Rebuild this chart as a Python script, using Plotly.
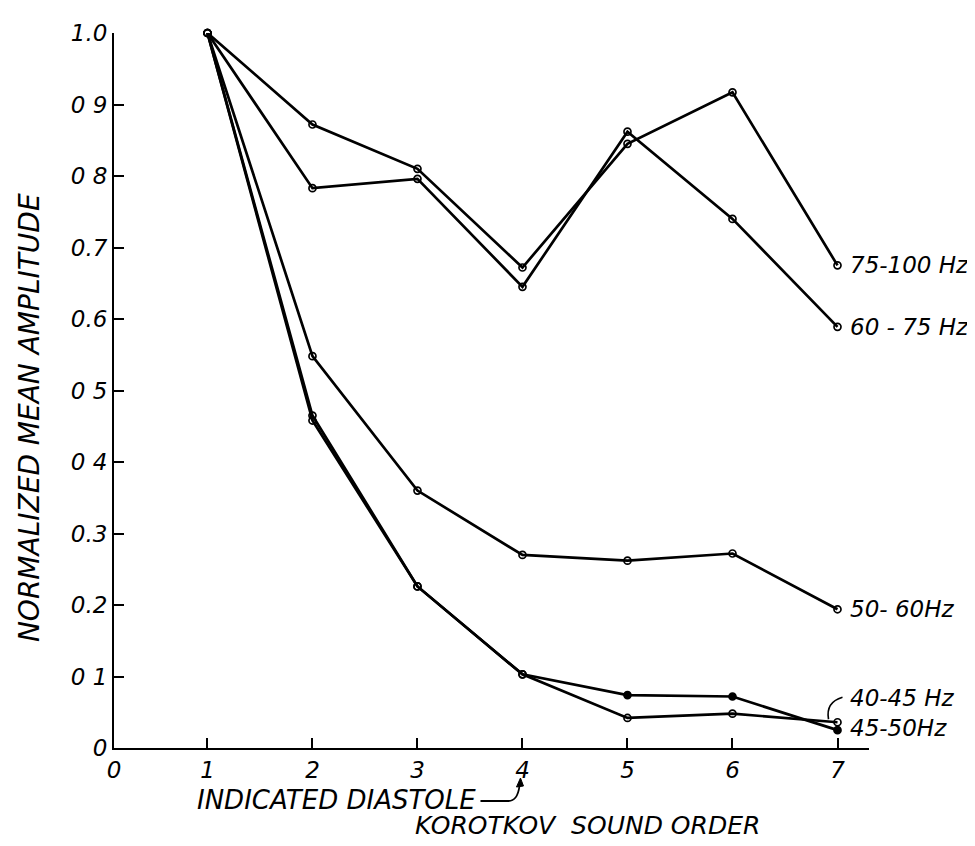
import plotly.graph_objects as go

# ---- data ----
sound_order = [1, 2, 3, 4, 5, 6, 7]
hz_75_100 = [1.0, 0.872, 0.81, 0.672, 0.845, 0.917, 0.675]
hz_60_75 = [1.0, 0.783, 0.796, 0.645, 0.862, 0.74, 0.589]
hz_50_60 = [1.0, 0.548, 0.36, 0.27, 0.262, 0.272, 0.194]
hz_45_50 = [1.0, 0.465, 0.226, 0.103, 0.074, 0.072, 0.025]
hz_40_45 = [1.0, 0.458, 0.226, 0.103, 0.042, 0.048, 0.036]

series_names = ["75-100 Hz", "60 - 75 Hz", "50- 60Hz", "45-50Hz", "40-45 Hz"]
series_values = [hz_75_100, hz_60_75, hz_50_60, hz_45_50, hz_40_45]
# first sound order drawn with filled dots (None = all open)
filled_from = [None, None, None, 5, None]

y_ticks = [0, 0.1, 0.2, 0.3, 0.4, 0.5, 0.6, 0.7, 0.8, 0.9, 1.0]
y_ticktext = ["0", "0 1", "0.2", "0.3", "0 4", "0 5", "0.6", "0.7", "0 8", "0 9", "1.0"]
x_ticktext = ["0", "1", "2", "3", "4", "5", "6", "7"]

X_RANGE = [0.11, 7.3]
FONT = "DejaVu Sans"

fig = go.Figure()
for name, vals, ff in zip(series_names, series_values, filled_from):
    symbols = ["circle" if (ff is not None and xv >= ff) else "circle-open" for xv in sound_order]
    fig.add_trace(go.Scatter(
        x=sound_order, y=vals, mode="lines+markers", name=name,
        line=dict(color="black", width=2.7),
        marker=dict(symbol=symbols, size=7, color="black", line=dict(color="black", width=1.7)),
        cliponaxis=False, showlegend=False,
    ))

# right-hand labels anchored at the last point of each series
label_shift = {"75-100 Hz": 0, "60 - 75 Hz": 0, "50- 60Hz": 0, "45-50Hz": 2, "40-45 Hz": 24}
for name, vals in zip(series_names, series_values):
    fig.add_annotation(x=sound_order[-1], y=vals[-1], xref="x", yref="y",
                       text=name, showarrow=False, xanchor="left", yanchor="middle",
                       xshift=10, yshift=label_shift[name],
                       font=dict(family=FONT, size=23, color="black", style="italic"))

# curved leader for 40-45 Hz label
fig.add_shape(type="path", xref="x", yref="y", xsizemode="pixel", ysizemode="pixel",
              xanchor=sound_order[-1], yanchor=hz_40_45[-1],
              path="M -9,3 Q -12,20 5,25", line=dict(color="black", width=1.6))

# INDICATED DIASTOLE arrow towards tick 4 (paper-referenced so it is not clipped)
tick4_paper = (4 - X_RANGE[0]) / (X_RANGE[1] - X_RANGE[0])
fig.add_shape(type="path", xref="paper", yref="paper", xsizemode="pixel", ysizemode="pixel",
              xanchor=tick4_paper, yanchor=0,
              path="M -42,-53 L -14,-53 Q -5,-53 -3,-38", line=dict(color="black", width=1.8))
fig.add_shape(type="path", xref="paper", yref="paper", xsizemode="pixel", ysizemode="pixel",
              xanchor=tick4_paper, yanchor=0,
              path="M -6,-39 L -2,-30 L 1,-38 Z", fillcolor="black", line=dict(color="black", width=1))

fig.add_annotation(x=0.482, y=-0.073, xref="paper", yref="paper", text="INDICATED DIASTOLE",
                   showarrow=False, xanchor="right", yanchor="middle",
                   font=dict(family=FONT, size=26, color="black", style="italic"))
fig.add_annotation(x=0.396, y=-0.109, xref="paper", yref="paper", text="KOROTKOV  SOUND ORDER",
                   showarrow=False, xanchor="left", yanchor="middle",
                   font=dict(family=FONT, size=25, color="black", style="italic"))
fig.add_annotation(x=-0.1126, y=0.4628, xref="paper", yref="paper", text="NORMALIZED MEAN AMPLITUDE",
                   showarrow=False, xanchor="center", yanchor="middle", textangle=-90,
                   font=dict(family=FONT, size=28, color="black", style="italic"))

fig.update_layout(
    width=975, height=846,
    margin=dict(l=106, r=114, t=14, b=106),
    paper_bgcolor="white", plot_bgcolor="white",
    font=dict(family=FONT, color="black", style="italic"),
    xaxis=dict(range=X_RANGE, showgrid=False, zeroline=False, showline=True,
               linecolor="black", linewidth=2, ticks="inside", ticklen=10, tickwidth=1.5,
               tickcolor="black", tickvals=[X_RANGE[0]] + sound_order, ticktext=x_ticktext,
               tickfont=dict(family=FONT, size=23, color="black", style="italic")),
    yaxis=dict(range=[0, 1.0], showgrid=False, zeroline=False, showline=True,
               linecolor="black", linewidth=2, ticks="inside", ticklen=10, tickwidth=1.5,
               tickcolor="black", tickvals=y_ticks, ticktext=y_ticktext,
               tickfont=dict(family=FONT, size=23, color="black", style="italic")),
)

fig.write_html("out.html")
